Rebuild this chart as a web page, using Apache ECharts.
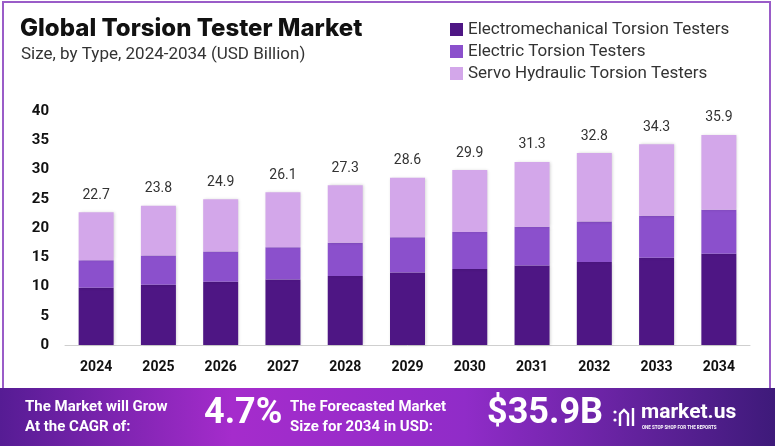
<!DOCTYPE html>
<html>
<head>
<meta charset="utf-8">
<script src="https://cdn.jsdelivr.net/npm/echarts@6/dist/echarts.min.js"></script>
<style>
  html, body { margin: 0; padding: 0; background: #fff; }
  #main { width: 775px; height: 446px; }
</style>
</head>
<body>
<div id="main"></div>
<script>
// 年份
var years = ['2024','2025','2026','2027','2028','2029','2030','2031','2032','2033','2034'];
// 各类型数值 (USD Billion)
var electromechanical = [9.8, 10.3, 10.8, 11.2, 11.8, 12.4, 13.0, 13.6, 14.2, 14.9, 15.6];
var electric = [4.7, 5.0, 5.2, 5.5, 5.7, 6.0, 6.3, 6.6, 6.9, 7.2, 7.5];
var servoHydraulic = [8.2, 8.5, 8.9, 9.4, 9.8, 10.2, 10.6, 11.1, 11.7, 12.2, 12.8];
// 柱顶总数
var totals = [22.7, 23.8, 24.9, 26.1, 27.3, 28.6, 29.9, 31.3, 32.8, 34.3, 35.9];
var seriesNames = ['Electromechanical Torsion Testers', 'Electric Torsion Testers', 'Servo Hydraulic Torsion Testers'];
var colors = ['#4e1684', '#8b50cc', '#d3a7ea'];

var myChart = echarts.init(document.getElementById('main'));

var barShadow = {
    shadowBlur: 3,
    shadowColor: 'rgba(0,0,0,0.18)',
    shadowOffsetX: 1,
    shadowOffsetY: 0
};

function makeSeries(name, data, color, withTotal) {
    var s = {
        name: name,
        type: 'bar',
        stack: 'total',
        barWidth: 35,
        data: data,
        itemStyle: Object.assign({color: color}, barShadow)
    };
    if (withTotal) {
        s.label = {
            show: true,
            position: 'top',
            distance: 10,
            color: '#333',
            fontSize: 14,
            fontFamily: 'Roboto',
            formatter: function (p) { return totals[p.dataIndex].toFixed(1); }
        };
    }
    return s;
}

var option = {
    backgroundColor: '#fff',
    animation: false,
    title: [{
        text: 'Global Torsion Tester Market',
        left: 15,
        top: 12,
        textStyle: {fontFamily: 'Inter', fontWeight: 800, fontSize: 24, color: '#111'}
    }, {
        text: 'Size, by Type, 2024-2034 (USD Billion)',
        left: 16,
        top: 41,
        textStyle: {fontFamily: 'Roboto', fontWeight: 'normal', fontSize: 17, color: '#333'}
    }],
    legend: {
        orient: 'vertical',
        left: 445,
        top: 16,
        itemWidth: 13,
        itemHeight: 13,
        itemGap: 5,
        icon: 'rect',
        data: seriesNames,
        textStyle: {fontFamily: 'Roboto', fontSize: 17, color: '#333'}
    },
    grid: {left: 65, right: 25, top: 111, bottom: 101},
    xAxis: {
        type: 'category',
        data: years,
        axisLine: {lineStyle: {color: '#cfcfcf'}},
        axisTick: {show: false},
        axisLabel: {margin: 15, color: '#111', fontWeight: 'bold', fontSize: 14, fontFamily: 'Roboto'}
    },
    yAxis: {
        type: 'value',
        min: 0,
        max: 40,
        interval: 5,
        splitLine: {show: false},
        axisLine: {show: false},
        axisTick: {show: false},
        axisLabel: {margin: 16, color: '#111', fontWeight: 'bold', fontSize: 15, fontFamily: 'Roboto'}
    },
    series: [
        makeSeries(seriesNames[0], electromechanical, colors[0], false),
        makeSeries(seriesNames[1], electric, colors[1], false),
        makeSeries(seriesNames[2], servoHydraulic, colors[2], true)
    ],
    graphic: [
        // 外框
        {type: 'rect', shape: {x: 3, y: 2, width: 767, height: 450}, style: {fill: 'none', stroke: '#9a5cc8', lineWidth: 2}, z: 10},
        // 底部横幅
        {
            type: 'rect',
            shape: {x: 0, y: 388, width: 775, height: 58},
            style: {
                fill: new echarts.graphic.LinearGradient(0, 0, 1, 0, [
                    {offset: 0, color: '#561c94'},
                    {offset: 0.3, color: '#a52ccc'},
                    {offset: 0.6, color: '#902cc8'},
                    {offset: 1, color: '#3e1a7a'}
                ])
            },
            z: 11
        },
        {type: 'text', left: 25, top: 397, z: 12, style: {text: 'The Market will Grow\nAt the CAGR of:', fill: '#fff', font: 'bold 15px Roboto', lineHeight: 20}},
        {type: 'text', left: 204, top: 396, z: 12, style: {text: '4.7%', fill: '#fff', font: 'bold 36px Roboto'}},
        {type: 'text', left: 290, top: 397, z: 12, style: {text: 'The Forecasted Market\nSize for 2034 in USD:', fill: '#fff', font: 'bold 15px Roboto', lineHeight: 20}},
        {type: 'text', left: 487, top: 396, z: 12, style: {text: '$35.9B', fill: '#fff', font: 'bold 36px Roboto'}},
        // logo 图标
        {type: 'circle', shape: {cx: 615, cy: 412, r: 1.6}, style: {fill: '#fff'}, z: 12},
        {type: 'circle', shape: {cx: 615, cy: 420, r: 1.6}, style: {fill: '#fff'}, z: 12},
        {type: 'polyline', shape: {points: [[620, 426], [620, 414], [624, 410], [628, 414], [628, 426]]}, style: {stroke: '#fff', lineWidth: 2.4, fill: 'none'}, z: 12},
        {type: 'line', shape: {x1: 633, y1: 408, x2: 633, y2: 426}, style: {stroke: '#fff', lineWidth: 2.4}, z: 12},
        {type: 'text', left: 641, top: 402, z: 12, style: {text: 'market.us', fill: '#fff', font: 'bold 21px Roboto'}},
        {type: 'text', left: 642, top: 425, z: 12, style: {text: 'ONE STOP SHOP FOR THE REPORTS', fill: '#fff', font: 'bold 4.5px Roboto'}}
    ]
};
myChart.setOption(option);
</script>
</body>
</html>
